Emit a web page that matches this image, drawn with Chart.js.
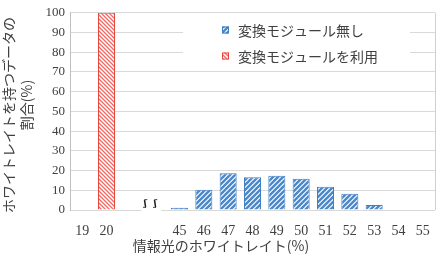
<!DOCTYPE html>
<html><head><meta charset="utf-8">
<script src="https://cdn.jsdelivr.net/npm/chart.js@4.4.1/dist/chart.umd.min.js"></script>
<style>html,body{margin:0;padding:0;background:#fff;}canvas{display:block;}</style>
</head><body>
<canvas id="c" width="445" height="261"></canvas>
<script>
const categories = ['19','20','','','45','46','47','48','49','50','51','52','53','54','55'];
const noModule   = [null,null,null,null,1.1,10.3,18.6,16.6,17.4,15.8,11.8,8.2,2.5,null,null];
const withModule = [null,100,null,null,null,null,null,null,null,null,null,null,null,null,null];
const yTicks = [0,10,20,30,40,50,60,70,80,90,100];
const seriesNames = ['変換モジュール無し','変換モジュールを利用'];
const yTitle = ['ホワイトレイトを持つデータの','割合(%)'];
const xTitle = '情報光のホワイトレイト(%)';

const SERIF = 'Liberation Serif';
const CJK = '"Noto Sans CJK JP","Noto Sans CJK SC",sans-serif';
Chart.defaults.font.family = SERIF;

function makePattern(bg, fg, dir, size, lw){
  const c = document.createElement('canvas'); c.width = c.height = size;
  const x = c.getContext('2d');
  x.fillStyle = bg; x.fillRect(0,0,size,size);
  x.strokeStyle = fg; x.lineWidth = lw; x.beginPath();
  if (dir === '/') {
    x.moveTo(0,size); x.lineTo(size,0);
    x.moveTo(-size,size); x.lineTo(size,-size);
    x.moveTo(0,2*size); x.lineTo(2*size,0);
  } else {
    x.moveTo(0,0); x.lineTo(size,size);
    x.moveTo(-size,0); x.lineTo(size,2*size);
    x.moveTo(0,-size); x.lineTo(2*size,size);
  }
  x.stroke();
  return document.getElementById('c').getContext('2d').createPattern(c,'repeat');
}
const blueFill = makePattern('#ffffff','#4a88cc','/',5,2.4);
const redFill  = makePattern('#ffffff','#ee6a62','\\',4,1.3);
const blueBorder = '#3f7fc6';
const redBorder = '#e8463d';

const decor = {
  id:'decor',
  afterDraw(chart){
    const ctx = chart.ctx, a = chart.chartArea, xs = chart.scales.x;
    ctx.save();
    ctx.strokeStyle = '#d0d0d0'; ctx.lineWidth = 1;
    ctx.beginPath(); ctx.moveTo(a.right+0.5, a.top); ctx.lineTo(a.right+0.5, a.bottom); ctx.stroke();
    const p3 = xs.getPixelForValue(3);
    ctx.fillStyle = '#fff';
    ctx.fillRect(p3-14, a.bottom-2, 20, 4);
    ctx.fillStyle = '#222';
    ctx.font = 'bold 9px "DejaVu Serif",serif';
    ctx.textAlign = 'center'; ctx.textBaseline = 'middle';
    ctx.fillText('ʃ', p3-10, a.bottom-6);
    ctx.fillText('ʃ', p3, a.bottom-6);
    ctx.fillStyle = '#fff';
    ctx.fillRect(183, 17, 227, 45);
    ctx.fillRect(232, 60, 160, 10);
    const items = [[blueFill, blueBorder, 30],[redFill, redBorder, 56]];
    items.forEach((it, i) => {
      const yc = it[2];
      ctx.fillStyle = it[0]; ctx.fillRect(222, yc-3.5, 7, 7);
      ctx.strokeStyle = it[1]; ctx.lineWidth = 1; ctx.strokeRect(222.5, yc-3, 6, 6);
      ctx.fillStyle = '#404040'; ctx.font = '14px ' + CJK;
      ctx.textAlign = 'left'; ctx.textBaseline = 'middle';
      ctx.fillText(seriesNames[i], 238, yc+1);
    });
    ctx.fillStyle = '#404040';
    ctx.font = '14px ' + CJK; ctx.textAlign = 'center'; ctx.textBaseline = 'middle';
    ctx.fillText(xTitle, 221, 246);
    ctx.save(); ctx.translate(9, 115); ctx.rotate(-Math.PI/2);
    ctx.fillText(yTitle[0], 0, 0); ctx.restore();
    ctx.save(); ctx.translate(27, 105); ctx.rotate(-Math.PI/2);
    ctx.fillText(yTitle[1], 0, 0); ctx.restore();
    ctx.restore();
  }
};

new Chart(document.getElementById('c'), {
  type:'bar',
  data:{
    labels: categories,
    datasets:[
      {label: seriesNames[0], data: noModule, backgroundColor: blueFill, borderColor: blueBorder, borderWidth: 1, grouped:false, barPercentage:0.7, categoryPercentage:1},
      {label: seriesNames[1], data: withModule, backgroundColor: redFill, borderColor: redBorder, borderWidth: 1, grouped:false, barPercentage:0.7, categoryPercentage:1}
    ]
  },
  options:{
    responsive:false, animation:false,
    layout:{padding:{left:0,right:10,top:7,bottom:0}},
    plugins:{legend:{display:false}, tooltip:{enabled:false}},
    scales:{
      x:{
        grid:{display:false, drawTicks:false},
        border:{display:false},
        ticks:{color:'#404040', font:{family:SERIF, size:14}, padding:13, maxRotation:0, autoSkip:false},
        afterFit(s){ s.height = 51; }
      },
      y:{
        min:0, max:100,
        afterBuildTicks(s){ s.ticks = yTicks.map(v => ({value:v})); },
        grid:{color:'#d9d9d9', drawTicks:false},
        border:{display:true, color:'#bfbfbf'},
        ticks:{color:'#404040', font:{family:SERIF, size:13}, padding:5},
        afterFit(s){ s.width = 70; }
      }
    }
  },
  plugins:[decor]
});
</script>
</body></html>
